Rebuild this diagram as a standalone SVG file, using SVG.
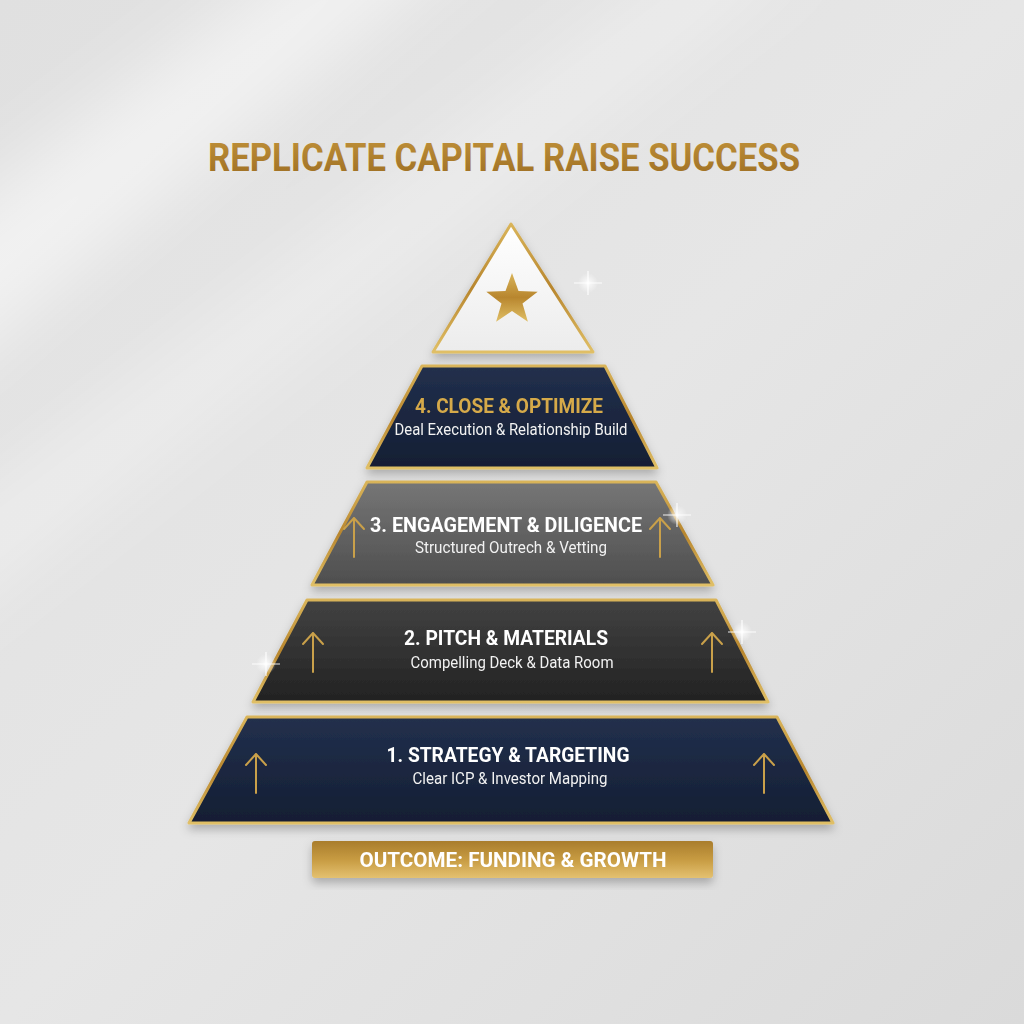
<svg xmlns="http://www.w3.org/2000/svg" xmlns:xlink="http://www.w3.org/1999/xlink" width="1024" height="1024" viewBox="0 0 1024 1024">
<defs>
<linearGradient id="bg" x1="0" y1="0" x2="1" y2="1">
<stop offset="0" stop-color="#e0e0e0"/>
<stop offset="0.5" stop-color="#e6e6e6"/>
<stop offset="1" stop-color="#dadada"/>
</linearGradient>
<filter id="blur" x="-50%" y="-50%" width="200%" height="200%">
<feGaussianBlur stdDeviation="35"/>
</filter>
<linearGradient id="gold" x1="0" y1="0" x2="0" y2="1">
<stop offset="0" stop-color="#d9b45a"/>
<stop offset="0.5" stop-color="#b8862e"/>
<stop offset="1" stop-color="#e0bf66"/>
</linearGradient>
<linearGradient id="goldText" x1="0" y1="0" x2="0" y2="1">
<stop offset="0" stop-color="#c1923a"/>
<stop offset="1" stop-color="#9b6c22"/>
</linearGradient>
<linearGradient id="goldBar" x1="0" y1="0" x2="0" y2="1">
<stop offset="0" stop-color="#a97d2c"/>
<stop offset="0.5" stop-color="#c79b42"/>
<stop offset="1" stop-color="#e4c170"/>
</linearGradient>
<linearGradient id="navy" x1="0" y1="0" x2="0" y2="1">
<stop offset="0" stop-color="#22304d"/>
<stop offset="1" stop-color="#141e33"/>
</linearGradient>
<linearGradient id="grey" x1="0" y1="0" x2="0" y2="1">
<stop offset="0" stop-color="#767676"/>
<stop offset="1" stop-color="#4e4e4e"/>
</linearGradient>
<linearGradient id="charcoal" x1="0" y1="0" x2="0" y2="1">
<stop offset="0" stop-color="#424242"/>
<stop offset="1" stop-color="#222222"/>
</linearGradient>
<linearGradient id="white" x1="0" y1="0" x2="0" y2="1">
<stop offset="0" stop-color="#ffffff"/>
<stop offset="1" stop-color="#ececec"/>
</linearGradient>
<radialGradient id="glint">
<stop offset="0" stop-color="#ffffff" stop-opacity="1"/>
<stop offset="0.3" stop-color="#ffffff" stop-opacity="0.6"/>
<stop offset="1" stop-color="#ffffff" stop-opacity="0"/>
</radialGradient>
<filter id="shadow" x="-10%" y="-10%" width="120%" height="140%">
<feDropShadow dx="0" dy="5" stdDeviation="5" flood-color="#000" flood-opacity="0.25"/>
</filter>
<path id="arrow" d="M0,0 L0,39 M-10,11 L0,0 L10,11"/>
<g id="spark">
<circle r="10" fill="url(#glint)"/>
<path d="M-14,0 L14,0 M0,-12 L0,12" stroke="#ffffff" stroke-width="1.2" stroke-opacity="0.9"/>
</g>
<style>
.tier{stroke:url(#gold);stroke-width:3;stroke-linejoin:round}
.ttl{font-family:Roboto,"Liberation Sans",sans-serif;font-weight:700;font-size:21px;text-anchor:middle}
.sub{font-family:Roboto,"Liberation Sans",sans-serif;font-weight:400;font-size:16px;fill:#f2f2f2;text-anchor:middle}
.arr{fill:none;stroke:#c9a04a;stroke-width:2;stroke-linecap:round;stroke-linejoin:round}
</style>
</defs>

<rect width="1024" height="1024" fill="url(#bg)"/>
<g filter="url(#blur)">
<polygon points="-100,260 380,-100 520,-100 -100,420" fill="#ffffff" opacity="0.55"/>
<polygon points="-100,560 720,-60 820,-60 -100,660" fill="#ffffff" opacity="0.35"/>
</g>

<text x="504" y="171" textLength="592" lengthAdjust="spacingAndGlyphs" font-family="Roboto, 'Liberation Sans', sans-serif" font-weight="700" font-size="39" fill="url(#goldText)" text-anchor="middle">REPLICATE CAPITAL RAISE SUCCESS</text>

<g id="apex" filter="url(#shadow)">
<polygon points="511,224 593,352 433,352" fill="url(#white)" class="tier"/>
<polygon points="512,273 518.5,291.1 537.7,291.7 522.5,303.4 527.9,321.8 512,311 496.1,321.8 501.5,303.4 486.3,291.7 505.5,291.1" fill="url(#gold)"/>
</g>

<g id="tier4" filter="url(#shadow)">
<polygon points="422,366 605,366 657,468 367,468" fill="url(#navy)" class="tier"/>
<text x="509" y="413" class="ttl" fill="#d6aa4a" textLength="188" lengthAdjust="spacingAndGlyphs">4. CLOSE &amp; OPTIMIZE</text>
<text x="511" y="435" class="sub" textLength="233" lengthAdjust="spacingAndGlyphs">Deal Execution &amp; Relationship Build</text>
</g>

<g id="tier3" filter="url(#shadow)">
<polygon points="367,482 656,482 713,585 312,585" fill="url(#grey)" class="tier"/>
<text x="506" y="532" class="ttl" fill="#ffffff" textLength="272" lengthAdjust="spacingAndGlyphs">3. ENGAGEMENT &amp; DILIGENCE</text>
<text x="511" y="553" class="sub" textLength="192" lengthAdjust="spacingAndGlyphs">Structured Outrech &amp; Vetting</text>
</g>

<g id="tier2" filter="url(#shadow)">
<polygon points="307,600 716,600 768,702 253,702" fill="url(#charcoal)" class="tier"/>
<text x="506" y="645" class="ttl" fill="#ffffff" textLength="204" lengthAdjust="spacingAndGlyphs">2. PITCH &amp; MATERIALS</text>
<text x="512" y="668" class="sub" textLength="203" lengthAdjust="spacingAndGlyphs">Compelling Deck &amp; Data Room</text>
</g>

<g id="tier1" filter="url(#shadow)">
<polygon points="247,717 777,717 833,823 189,823" fill="url(#navy)" class="tier"/>
<text x="508" y="762" class="ttl" fill="#ffffff" textLength="243" lengthAdjust="spacingAndGlyphs">1. STRATEGY &amp; TARGETING</text>
<text x="510" y="784" class="sub" textLength="195" lengthAdjust="spacingAndGlyphs">Clear ICP &amp; Investor Mapping</text>
</g>

<g id="outcome" filter="url(#shadow)">
<rect x="312" y="841" width="401" height="37" rx="3" fill="url(#goldBar)"/>
<text x="513" y="867" textLength="307" lengthAdjust="spacingAndGlyphs" font-family="Roboto, 'Liberation Sans', sans-serif" font-weight="700" font-size="20" fill="#ffffff" text-anchor="middle">OUTCOME: FUNDING &amp; GROWTH</text>
</g>

<g id="connectors">
<use href="#arrow" xlink:href="#arrow" class="arr" x="354" y="518"/>
<use href="#arrow" xlink:href="#arrow" class="arr" x="660" y="518"/>
<use href="#arrow" xlink:href="#arrow" class="arr" x="313" y="633"/>
<use href="#arrow" xlink:href="#arrow" class="arr" x="712" y="633"/>
<use href="#arrow" xlink:href="#arrow" class="arr" x="256" y="754"/>
<use href="#arrow" xlink:href="#arrow" class="arr" x="764" y="754"/>
</g>

<g id="glints">
<use href="#spark" xlink:href="#spark" x="588" y="283"/>
<use href="#spark" xlink:href="#spark" x="677" y="515"/>
<use href="#spark" xlink:href="#spark" x="742" y="632"/>
<use href="#spark" xlink:href="#spark" x="266" y="664"/>
</g>
</svg>
